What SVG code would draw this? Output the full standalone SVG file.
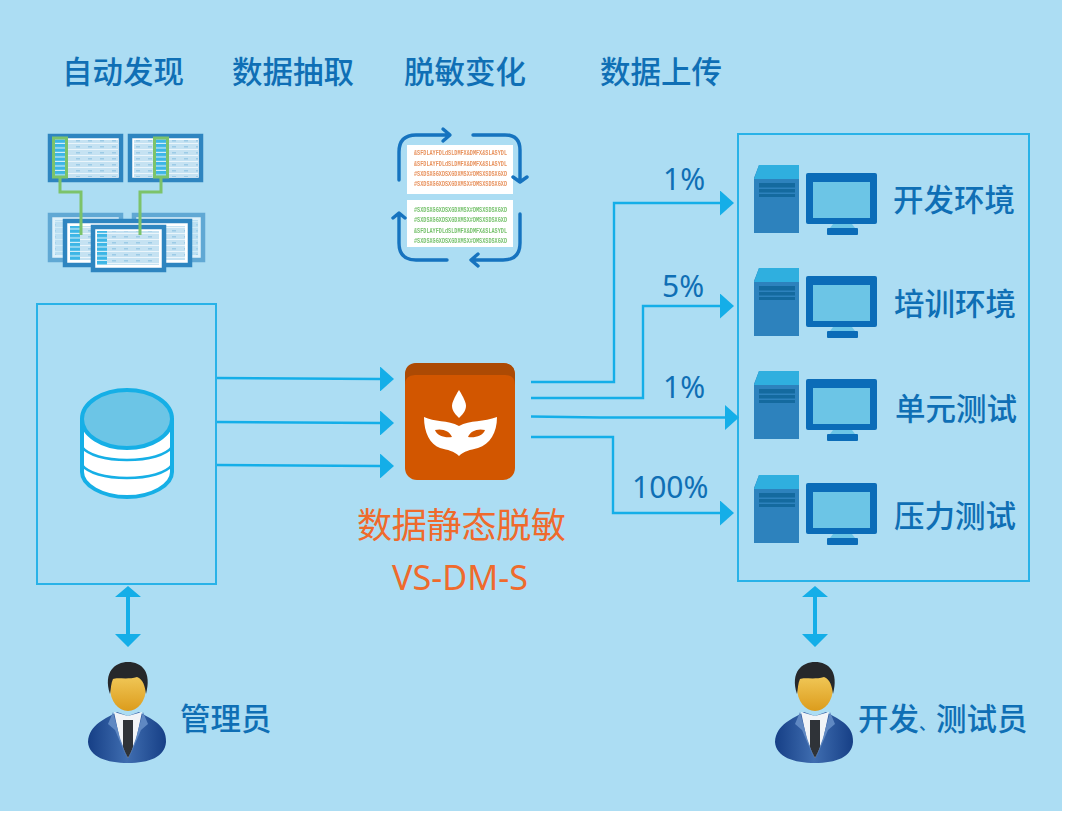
<svg xmlns="http://www.w3.org/2000/svg" width="1065" height="814" viewBox="0 0 1065 814">
<style>
.t{font-family:"Noto Sans CJK SC","Noto Sans",sans-serif;font-weight:500;font-size:30.500px;fill:#0f6fb5}
.p{font-family:"Noto Sans","Noto Sans CJK SC",sans-serif;font-size:30px;fill:#0f6fb5}
.box{fill:none;stroke:#28b2e8;stroke-width:2}
.c{fill:none;stroke:#14aee8;stroke-width:2.400}
.tb{fill:#fff;stroke:#2f85c0;stroke-width:4.500}
.cell{fill:url(#grid)}
.hd{fill:url(#stripes)}
.g{fill:none;stroke:#7cc36a;stroke-width:3}
.loop{fill:none;stroke:#1673bf;stroke-width:3.400;stroke-linecap:round;stroke-linejoin:round}
.code{font-family:"Liberation Mono",monospace;font-size:6.500px;font-weight:700}
.soft{filter:url(#soft)}
</style>
<defs>
<filter id="soft" x="-5%" y="-5%" width="110%" height="110%"><feGaussianBlur stdDeviation="0.600"/></filter>
<marker id="ah" markerUnits="userSpaceOnUse" markerWidth="14" markerHeight="25" refX="0" refY="12.500" orient="auto"><path d="M0 0L14 12.500L0 25Z" fill="#14aee8"/></marker>
<pattern id="grid" patternUnits="userSpaceOnUse" width="12" height="6"><rect width="12" height="6" fill="#c5e2f2"/><rect y="5" width="12" height="1" fill="#eaf5fb"/><rect x="4" y="2" width="4" height="1.500" fill="#9ccbe6"/></pattern>
<pattern id="stripes" patternUnits="userSpaceOnUse" width="10" height="4.500"><rect width="10" height="4.500" fill="#3db6e6"/><rect y="3.400" width="10" height="1.100" fill="#d8f0fa"/></pattern>
<linearGradient id="suit" x1="0" x2="1" y1="0" y2="0"><stop offset="0" stop-color="#163f86"/><stop offset=".5" stop-color="#3f6db0"/><stop offset="1" stop-color="#163f86"/></linearGradient>
<linearGradient id="face" x1="0" x2="0" y1="0" y2="1"><stop offset="0" stop-color="#f7d56a"/><stop offset="1" stop-color="#dc9c1c"/></linearGradient>
<g id="pc">
<path d="M0 13L5 0H45V68H0Z" fill="#2d82bd"/>
<path d="M0 14L5 0H45V14Z" fill="#2fafdf"/>
<path d="M5 18H41V22.500H5ZM5 24H41V27.500H5ZM5 29H41V32H5Z" fill="#146a9f"/>
<rect x="52" y="8" width="71" height="51" rx="2" fill="#0b6cb8"/>
<rect x="59" y="17" width="57" height="36" fill="#6cc5e6"/>
<path d="M79 59H98L101 63H76Z" fill="#6cc5e6"/>
<rect x="73" y="63" width="31" height="7" rx="1" fill="#0b6cb8"/>
</g>
<g id="person">
<path d="M-1 80C0 62 18 56 28 50L39 54L50 50C60 56 78 62 77 80C76 95 60 101 39 101C18 101 0 95 -1 80Z" fill="url(#suit)"/>
<path d="M25 50L39 54L53 50L47 78L39 96L31 78Z" fill="#f1f4f7"/>
<path d="M34 58H44L44 86L39 96L34 86Z" fill="#2f3338"/>
<path d="M24 50L19 62L26 68L38 96L31 76Z" fill="#5f88c2"/>
<path d="M54 50L59 62L52 68L40 96L47 76Z" fill="#5f88c2"/>
<ellipse cx="39" cy="26" rx="18" ry="23" fill="url(#face)"/>
<path d="M21 32C14 10 26 0 39 0C53 0 63 10 57 32C56 24 54 17 48 15C38 18 28 15 24 17C22 21 22 26 21 32Z" fill="#26282b"/>
</g>
</defs>
<rect width="1065" height="814" fill="#fff"/>
<rect width="1062" height="811" fill="#acddf3"/>

<g id="headers">
<text class="t" x="62" y="83">自动发现</text>
<text class="t" x="232" y="83">数据抽取</text>
<text class="t" x="404" y="83">脱敏变化</text>
<text class="t" x="600" y="83">数据上传</text>
</g>

<g id="discover-icon" class="soft">
<g opacity=".6">
<rect class="tb" x="50" y="215" width="71" height="45"/><rect class="tb" x="134" y="215" width="69" height="45"/>
<rect class="cell" x="55" y="220" width="61" height="35"/><rect class="cell" x="139" y="220" width="59" height="35"/>
</g>
<rect class="tb" x="65" y="221" width="125" height="44"/>
<rect class="cell" x="70" y="226" width="115" height="34"/>
<rect class="hd" x="70" y="226" width="10" height="34"/>
<rect class="tb" x="93" y="227" width="71" height="43"/>
<rect class="cell" x="98" y="231" width="61" height="34"/>
<rect class="hd" x="97" y="231" width="10" height="34"/>
<rect class="tb" x="50" y="136" width="71" height="44"/>
<rect class="cell" x="54" y="140" width="64" height="37"/>
<rect class="hd" x="55" y="139" width="10" height="37"/>
<rect class="tb" x="130" y="136" width="71" height="44"/>
<rect class="cell" x="134" y="140" width="64" height="37"/>
<rect class="hd" x="156" y="139" width="10" height="37"/>
<rect class="g" x="53.500" y="138" width="13" height="39"/>
<rect class="g" x="154.500" y="138" width="13" height="39"/>
<path class="g" d="M60 178V192H81V235M161 178V192H140V235"/>
</g>

<g id="mask-change-icon" class="soft">
<rect x="407" y="145" width="106" height="49" fill="#fff"/>
<rect x="407" y="200" width="106" height="47" fill="#fff"/>
<g class="code" fill="#e8935f">
<text x="414" y="155" textLength="93" lengthAdjust="spacingAndGlyphs">&amp;SFDLAYFDLdSLDMFX&amp;DMFX&amp;SLASYDL</text>
<text x="414" y="165.500" textLength="93" lengthAdjust="spacingAndGlyphs">&amp;SFDLAYFDLdSLDMFX&amp;DMFX&amp;SLASYDL</text>
<text x="414" y="176" textLength="93" lengthAdjust="spacingAndGlyphs">#SXDSXGGXDSXGDXMSX#DMSXSDSXGXD</text>
<text x="414" y="186" textLength="93" lengthAdjust="spacingAndGlyphs">#SXDSXGGXDSXGDXMSX#DMSXSDSXGXD</text>
</g>
<g class="code" fill="#78c26e">
<text x="414" y="212" textLength="93" lengthAdjust="spacingAndGlyphs">#SXDSXGGXDSXGDXMSX#DMSXSDSXGXD</text>
<text x="414" y="222" textLength="93" lengthAdjust="spacingAndGlyphs">#SXDSXGGXDSXGDXMSX#DMSXSDSXGXD</text>
<text x="414" y="233" textLength="93" lengthAdjust="spacingAndGlyphs">&amp;SFDLAYFDLdSLDMFX&amp;DMFX&amp;SLASYDL</text>
<text x="414" y="243" textLength="93" lengthAdjust="spacingAndGlyphs">#SXDSXGGXDSXGDXMSX#DMSXSDSXGXD</text>
</g>
<path class="loop" d="M399 180V152Q399 135 416 135H448M443 129L450 135L443 141"/>
<path class="loop" d="M473 135H505Q520 135 520 150V181M513 177L520 182L527 177"/>
<path class="loop" d="M520 214V243Q520 260 503 260H472M478 254L471 260L478 266"/>
<path class="loop" d="M447 260H416Q399 260 399 243V214M393 218L399 213L405 218"/>
</g>

<g id="source-box"><rect class="box" x="37" y="304" width="179" height="280"/></g>

<g id="database">
<path d="M82 420V472C82 485 102 497 127 497C152 497 172 485 172 472V420Z" fill="#fff" stroke="#16afe6" stroke-width="4"/>
<path d="M82 447C88 455 105 460 127 460C149 460 166 455 172 447M82 465C88 473 105 478 127 478C149 478 166 473 172 465" fill="none" stroke="#16afe6" stroke-width="2.500"/>
<ellipse cx="127" cy="419" rx="45" ry="29" fill="#6cc5e6" stroke="#16afe6" stroke-width="4"/>
</g>

<g id="mask-node">
<rect x="405" y="363" width="110" height="117" rx="12" fill="#d25600"/>
<path d="M405 385V375Q405 363 417 363H503Q515 363 515 375V385Q515 375 505 375H415Q405 375 405 385Z" fill="#ac4a04"/>
<path d="M459 390C464 398 466 403 466 406C466 411 462 415 459 418C456 415 452 411 452 406C452 403 454 398 459 390Z" fill="#fff"/>
<path fill="#fff" fill-rule="evenodd" d="M424 417C434 422 448 420 459 426C470 420 484 422 497 417C497 433 490 444 478 448C470 450 464 451 459 456C454 451 448 450 440 448C430 444 424 433 424 417ZM435 430C437 436 445 438 452 437C450 431 442 428 435 430ZM485 430C483 436 475 438 468 437C470 431 478 428 485 430Z"/>
</g>
<g id="mask-label">
<text x="357" y="538" font-family="'Noto Sans CJK SC',sans-serif" font-size="35" fill="#ef6a2c" textLength="209">数据静态脱敏</text>
<text x="392" y="590" font-family="'Noto Sans','Noto Sans CJK SC',sans-serif" font-size="34" fill="#ef6a2c" textLength="136" lengthAdjust="spacingAndGlyphs">VS-DM-S</text>
</g>

<g id="target-box"><rect class="box" x="738" y="134" width="291" height="447"/></g>
<g id="env-dev"><use href="#pc" x="754" y="165"/><text class="t" x="893" y="211">开发环境</text></g>
<g id="env-train"><use href="#pc" x="754" y="268"/><text class="t" x="894" y="315">培训环境</text></g>
<g id="env-unit"><use href="#pc" x="754" y="371"/><text class="t" x="895" y="420">单元测试</text></g>
<g id="env-load"><use href="#pc" x="754" y="475"/><text class="t" x="894" y="527">压力测试</text></g>

<g id="admin"><use href="#person" x="89" y="662"/><text class="t" x="180" y="730">管理员</text></g>
<g id="testers"><use href="#person" x="776" y="662"/><text class="t" x="858" y="730">开发<tspan font-size="17">、</tspan>测试员</text></g>

<g id="connectors">
<path class="c" marker-end="url(#ah)" d="M217 378L380 379"/>
<path class="c" marker-end="url(#ah)" d="M217 422L380 423"/>
<path class="c" marker-end="url(#ah)" d="M217 465L380 466"/>
<path class="c" marker-end="url(#ah)" d="M531 382H614V203H720"/>
<path class="c" marker-end="url(#ah)" d="M531 398H643V306H720"/>
<path class="c" marker-end="url(#ah)" d="M531 416.500L600 417.500H725"/>
<path class="c" marker-end="url(#ah)" d="M531 437H613V513H720"/>
<path d="M128 586L141 597H130V634H141L128 647L115 634H126V597H115Z" fill="#14aee8"/>
<path d="M815 586L828 597H817V634H828L815 647L802 634H813V597H802Z" fill="#14aee8"/>
</g>
<g id="connector-labels">
<text class="p" x="663" y="190">1%</text>
<text class="p" x="662" y="297">5%</text>
<text class="p" x="663" y="398">1%</text>
<text class="p" x="632" y="498">100%</text>
</g>
</svg>
